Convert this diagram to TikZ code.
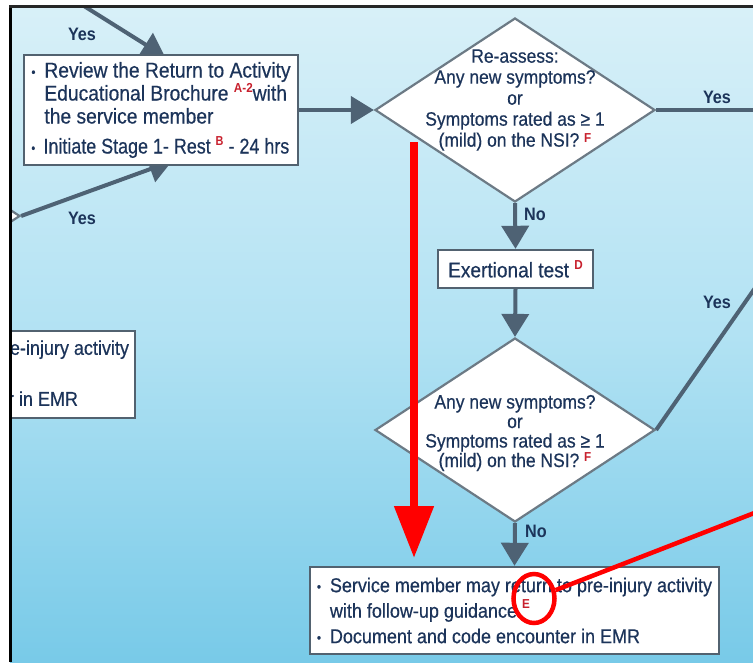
\documentclass[tikz,border=0pt]{standalone}
\usepackage{graphicx}
\usepackage{fontspec}
\setmainfont{Liberation Sans}[FakeStretch=0.9, UprightFeatures={FakeBold=0.5}]
\usetikzlibrary{arrows.meta,shapes.geometric,calc}
\pgfdeclarelayer{bg}
\pgfsetlayers{bg,main}

\definecolor{panelTop}{RGB}{216,240,248}
\definecolor{panelMid}{RGB}{178,226,243}
\definecolor{panelBot}{RGB}{120,202,232}
\definecolor{wire}{RGB}{78,98,116}
\definecolor{edge}{RGB}{82,98,112}
\definecolor{ink}{RGB}{28,52,90}
\definecolor{refred}{RGB}{200,32,45}
\definecolor{mark}{RGB}{255,0,0}

% small red reference letters
\newcommand{\rsup}[2][8pt]{\raisebox{#1}{\textcolor{refred}{\fontsize{13}{13}\bfseries\selectfont #2}}}
% bullet and hanging indent for list lines
\newcommand{\bul}{\makebox[13pt][l]{\raisebox{1pt}{\fontsize{13}{13}\selectfont\textbullet}}}
\newcommand{\ind}{\hspace*{13pt}}

\tikzset{
  infobox/.style={rectangle, draw=edge, line width=2.4pt, fill=white, inner sep=0pt, text=ink, align=left},
  decision/.style={diamond, draw=edge!85, line width=2.2pt, fill=white, inner sep=0pt,
    minimum width=280pt, minimum height=184pt},
  asktext/.style={text=ink, align=center, inner sep=0pt},
  answer/.style={text=ink, font=\fontsize{18}{18}\bfseries\selectfont, inner sep=0pt},
  flow/.style={draw=wire, line width=4pt, -{Triangle[length=23pt,width=27pt]}},
  plainflow/.style={draw=wire, line width=4pt},
  callout/.style={draw=mark, line width=8pt, -{Triangle[length=52pt,width=38pt]}},
  markline/.style={draw=mark, line width=4.5pt},
}

\begin{document}
\begin{tikzpicture}[x=1pt, y=-1pt]
\useasboundingbox (0,0) rectangle (753,662);

% free ends of connectors
\coordinate (topfeed) at (68,-4);
\coordinate (yesCend) at (762,110);
\coordinate (yesDend) at (762,278);
\coordinate (markstart) at (414,142);
\coordinate (markend) at (414,558);
\coordinate (ringend) at (762,510);

\begin{scope}
  \clip (10,5) rectangle (753,662);

  % shapes partly outside the panel on the left
  \node[decision] (leftdia) at (-120,216) {};
  \node[infobox, minimum width=409pt, minimum height=87pt] (leftbox) at (-69.5,374.5) {};
  \node[anchor=base east, text=ink, inner sep=0pt, font=\fontsize{20}{25}\selectfont] (lefttxtA)
    at ($(leftbox.north east)+(-7,25)$) {e-injury activity};
  \node[anchor=base east, text=ink, inner sep=0pt, font=\fontsize{20}{25}\selectfont] (lefttxtB)
    at ($(leftbox.north east)+(-58,76)$) {r in EMR};

  % first step
  \node[infobox, minimum width=274pt, minimum height=110pt, font=\fontsize{21.4}{23}\selectfont] (review) at (161,110)
    {\bul Review the Return to Activity\\
     \ind Educational Brochure \rsup{A-2}with\\
     \ind the service member\\[7pt]
     \scalebox{0.93}[1]{\bul Initiate Stage 1- Rest \rsup{B} - 24 hrs}};

  % first decision
  \node[decision] (d1) at (515,110) {};
  \node[asktext, font=\fontsize{19.4}{21}\selectfont] (d1q) at (515,100)
    {Re-assess:\\Any new symptoms?\\or\\Symptoms rated as ≥ 1\\(mild) on the NSI? \rsup[4pt]{F}};

  % exertional test
  \node[infobox, minimum width=155pt, minimum height=38pt, font=\fontsize{21.2}{23}\selectfont] (exert) at (515.5,269)
    {Exertional test \rsup{D}};

  % second decision
  \node[decision] (d2) at (515,430) {};
  \node[asktext, font=\fontsize{19.4}{19.5}\selectfont] (d2q) at (515,433)
    {Any new symptoms?\\or\\Symptoms rated as ≥ 1\\(mild) on the NSI? \rsup[6pt]{F}};

  % outcome
  \node[infobox, minimum width=409pt, minimum height=87pt, font=\fontsize{20}{25.5}\selectfont] (done) at (514.5,610.5)
    {\bul Service member may return to pre-injury activity\\
     \ind with follow-up guidance \rsup[9pt]{E}\\
     \bul Document and code encounter in EMR};

  % branch labels
  \node[answer] (yesA) at (82,34) {Yes};
  \node[answer] (yesB) at (82,218) {Yes};
  \node[answer] (yesC) at (717,97) {Yes};
  \node[answer] (noA) at (535,214) {No};
  \node[answer] (yesD) at (717,302) {Yes};
  \node[answer] (noB) at (536,531) {No};

  % red highlights
  \draw[callout] (markstart) -- (markend);
  \node[ellipse, draw=mark, line width=4.5pt, minimum width=41pt, minimum height=49pt, inner sep=0pt] (ring) at (534,598.5) {};
  \draw[markline] (ring) -- (ringend);
\end{scope}

\begin{pgfonlayer}{bg}
  \fill[white] (0,0) rectangle (753,662);
  \shade[top color=panelTop, bottom color=panelBot, middle color=panelMid] (10,5) rectangle (753,662);
  \begin{scope}
    \clip (10,5) rectangle (753,662);
    \draw[flow] (topfeed) -- ($(review.north)+(4,3)$);
    \draw[flow] (leftdia.east) -- ($(review.south)+(11,-5)$);
    \draw[flow] (review.east) -- (d1.west);
    \draw[plainflow] (d1.east) -- (yesCend);
    \draw[flow] (d1.south) -- (exert.north);
    \draw[flow] (exert.south) -- (d2.north);
    \draw[plainflow] (d2.east) -- (yesDend);
    \draw[flow] (d2.south) -- (done.north);
  \end{scope}
\end{pgfonlayer}

% panel frame
\fill[black] (9,5) rectangle (12,662);
\fill[black!85] (9,5) rectangle (753,7.5);
\end{tikzpicture}
\end{document}
